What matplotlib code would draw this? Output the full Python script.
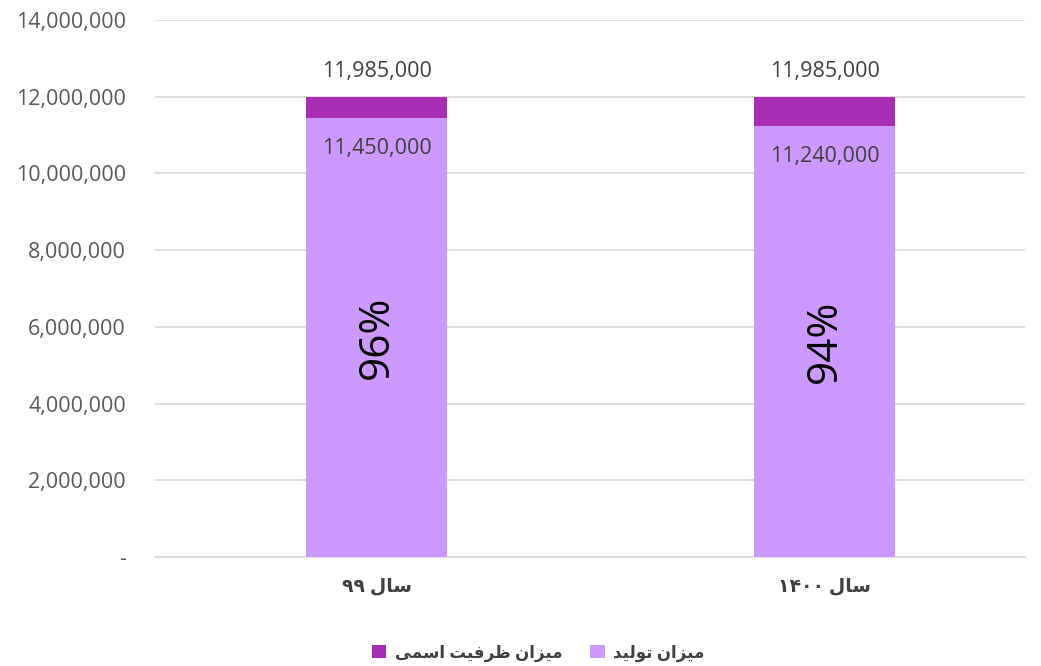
import numpy as np
import matplotlib
matplotlib.use("Agg")
import matplotlib.pyplot as plt
from matplotlib.ticker import FuncFormatter

plt.rcParams['font.family'] = ['Open Sans', 'DejaVu Sans']

# data
categories = ['سال ۹۹', 'سال ۱۴۰۰']
production = [11450000, 11240000]
capacity = [11985000, 11985000]
percent_labels = ['96%', '94%']
legend_names = ['میزان ظرفیت اسمی', 'میزان تولید']

# --- tiny arabic shaper (matplotlib has no shaping / bidi) ---
# char: (isolated, final, initial, medial)
forms = {
    'س': ('\uFEB1', '\uFEB2', '\uFEB3', '\uFEB4'),
    'ا': ('\uFE8D', '\uFE8E', None, None),
    'ل': ('\uFEDD', '\uFEDE', '\uFEDF', '\uFEE0'),
    'م': ('\uFEE1', '\uFEE2', '\uFEE3', '\uFEE4'),
    'ی': ('\uFBFC', '\uFBFD', '\uFBFE', '\uFBFF'),
    'ز': ('\uFEAF', '\uFEB0', None, None),
    'ن': ('\uFEE5', '\uFEE6', '\uFEE7', '\uFEE8'),
    'ظ': ('\uFEC5', '\uFEC6', '\uFEC7', '\uFEC8'),
    'ر': ('\uFEAD', '\uFEAE', None, None),
    'ف': ('\uFED1', '\uFED2', '\uFED3', '\uFED4'),
    'ت': ('\uFE95', '\uFE96', '\uFE97', '\uFE98'),
    'و': ('\uFEED', '\uFEEE', None, None),
    'د': ('\uFEA9', '\uFEAA', None, None),
}


def shape_word(w):
    if not any(c in forms for c in w):
        return w  # digits, keep LTR
    out = []
    for i, c in enumerate(w):
        f = forms[c]
        prev = w[i - 1] if i > 0 else None
        nxt = w[i + 1] if i < len(w) - 1 else None
        join_prev = prev is not None and forms[prev][2] is not None
        join_next = nxt is not None and f[2] is not None
        if join_prev and join_next:
            out.append(f[3])
        elif join_prev:
            out.append(f[1])
        elif join_next:
            out.append(f[2])
        else:
            out.append(f[0])
    s = ''.join(out)
    return s[::-1]


def fa(text):
    return ' '.join(shape_word(w) for w in text.split(' ')[::-1])


light = '#CC99FF'
dark = '#A82CB4'

fig = plt.figure(figsize=(10.41, 6.66), dpi=100)
ax = fig.add_axes([0.149, 0.1637, 0.836, 0.8063])

x = np.arange(len(categories))
top_part = [c - p for c, p in zip(capacity, production)]
b1 = ax.bar(x, production, width=0.315, color=light, label=fa(legend_names[1]), zorder=3)
b2 = ax.bar(x, top_part, width=0.315, bottom=production, color=dark, label=fa(legend_names[0]), zorder=3)

for i in range(len(x)):
    ax.annotate(f'{capacity[i]:,}', (x[i], capacity[i]), xytext=(0, 18.5), textcoords='offset points',
                ha='center', va='center', fontsize=15.5, color='#404040')
    ax.annotate(f'{production[i]:,}', (x[i], production[i]), xytext=(0, -22), textcoords='offset points',
                ha='center', va='center', fontsize=15.5, color='#404040', zorder=4)
    ax.text(x[i], production[i] / 2, percent_labels[i], rotation=90, ha='center', va='center',
            fontsize=30.5, color='black', zorder=4)

ax.set_ylim(0, 14000000)
ax.set_xlim(-0.494, 1.4475)
ax.set_yticks(np.arange(0, 14000001, 2000000))
ax.yaxis.set_major_formatter(FuncFormatter(lambda v, p: '-' if v == 0 else f'{int(v):,}'))
ax.set_xticks(x)
ax.set_xticklabels([fa(c) for c in categories], fontsize=13.5, fontweight='bold', color='#404040')
ax.tick_params(axis='y', labelsize=15.5, labelcolor='#595959', length=0, pad=21)
ax.tick_params(axis='x', length=0, pad=14)
ax.grid(axis='y', color='#D9D9D9', linewidth=1.2, zorder=0)
for s in ['top', 'right', 'left']:
    ax.spines[s].set_visible(False)
ax.spines['bottom'].set_color('#D9D9D9')
ax.spines['bottom'].set_linewidth(1.2)

handles = [b2, b1]
leg = fig.legend(handles, [h.get_label() for h in handles], loc='center', bbox_to_anchor=(0.517, 0.02),
                 ncol=2, frameon=False, handlelength=0.85, handleheight=0.85, columnspacing=1.7,
                 handletextpad=0.5, prop={'size': 12, 'weight': 'bold'})
for t in leg.get_texts():
    t.set_color('#404040')

fig.savefig('out.png', dpi=100)
